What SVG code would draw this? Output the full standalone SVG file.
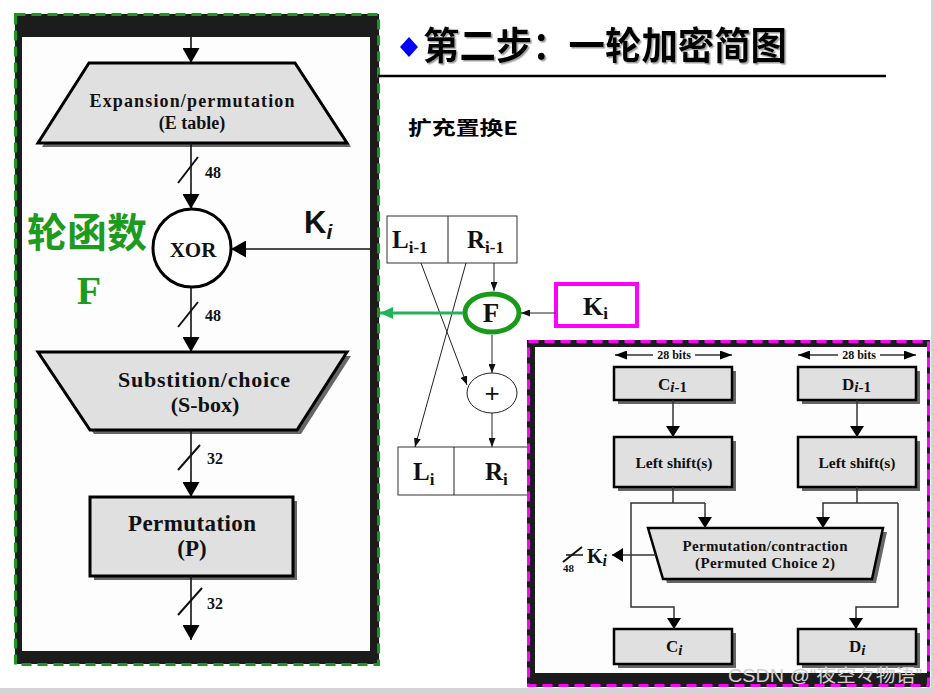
<svg xmlns="http://www.w3.org/2000/svg" width="934" height="694" viewBox="0 0 934 694">
<style>
.sb{font-family:"Liberation Serif","DejaVu Serif",serif;font-weight:bold;fill:#111}
.cjk{font-family:"Noto Sans CJK SC",sans-serif}
.box{fill:#e0e0e0;stroke:#000;stroke-width:3}
.box2{fill:#e0e0e0;stroke:#000;stroke-width:2.5}
.shd{fill:#666}
.ln{fill:none;stroke:#111;stroke-width:1.6}
.thin{fill:none;stroke:#222;stroke-width:1}
.cell{fill:#fff;stroke:#333;stroke-width:1}
.rl{fill:none;stroke:#333;stroke-width:1.5}
.sl{stroke:#111;stroke-width:2}
</style>
<defs>
<marker id="ah" markerUnits="userSpaceOnUse" markerWidth="15" markerHeight="17" refX="15" refY="8.5" orient="auto"><path d="M0,0 L15,8.5 L0,17 z" fill="#000"/></marker>
<marker id="am" markerUnits="userSpaceOnUse" markerWidth="11" markerHeight="14" refX="11" refY="7" orient="auto"><path d="M0,0 L11,7 L0,14 z" fill="#000"/></marker>
<marker id="ad" markerUnits="userSpaceOnUse" markerWidth="12" markerHeight="9" refX="12" refY="4.5" orient="auto"><path d="M0,0 L12,4.5 L0,9 z" fill="#000"/></marker>
<marker id="as" markerUnits="userSpaceOnUse" markerWidth="9" markerHeight="7" refX="9" refY="3.5" orient="auto"><path d="M0,0 L9,3.5 L0,7 z" fill="#111"/></marker>
<marker id="ag" markerUnits="userSpaceOnUse" markerWidth="13" markerHeight="12" refX="13" refY="6" orient="auto"><path d="M0,0 L13,6 L0,12 z" fill="#22b25a"/></marker>
<filter id="ts" x="-5%" y="-20%" width="110%" height="140%"><feDropShadow dx="1.5" dy="1.5" stdDeviation="0.6" flood-color="#888" flood-opacity="0.8"/></filter>
</defs>
<rect width="934" height="694" fill="#fff"/>
<rect x="931" y="0" width="3" height="694" fill="#d4d4d4"/>
<rect x="0" y="688" width="934" height="6" fill="#d4d4d4"/>

<g id="left-panel">
<rect x="15" y="14" width="364" height="650" fill="#1c1c1c"/>
<rect x="22" y="37" width="348" height="614" fill="#fdfdfd"/>
<rect x="15.5" y="14.5" width="363" height="650" fill="none" stroke="#1a9a1a" stroke-width="3" stroke-dasharray="10 6"/>
</g>

<g id="title">
<polygon points="409,37 418,47 409,57 400,47" fill="#0000ff"/>
<text x="423" y="59" class="cjk" font-size="38" font-weight="bold" fill="#000" textLength="364" lengthAdjust="spacingAndGlyphs" filter="url(#ts)">第二步：一轮加密简图</text>
<line x1="378" y1="76" x2="886" y2="76" stroke="#000" stroke-width="2.5"/>
<text x="408" y="135" class="cjk" font-size="19" font-weight="bold" fill="#000" textLength="110" lengthAdjust="spacingAndGlyphs">扩充置换E</text>
</g>

<g id="e-table">
<polygon class="shd" points="93,67 299,67 351,147 42,147"/>
<polygon class="box" points="89,63 295,63 347,143 38,143"/>
<text x="192" y="107" class="sb" font-size="18" text-anchor="middle" textLength="205" lengthAdjust="spacing">Expansion/permutation</text>
<text x="192" y="129" class="sb" font-size="18" text-anchor="middle">(E table)</text>
</g>
<g id="xor">
<circle cx="192" cy="248" r="39" fill="#fff" stroke="#000" stroke-width="3"/>
<text x="193" y="257" class="sb" font-size="21" text-anchor="middle">XOR</text>
</g>
<g id="s-box">
<polygon class="shd" points="42,356 351,356 301,434 94,434"/>
<polygon class="box" points="38,352 347,352 297,430 90,430"/>
<text x="204" y="387" class="sb" font-size="22" text-anchor="middle" textLength="172" lengthAdjust="spacing">Substition/choice</text>
<text x="205" y="412" class="sb" font-size="22" text-anchor="middle">(S-box)</text>
</g>
<g id="p-box">
<rect class="shd" x="94" y="501" width="203" height="79"/>
<rect class="box" x="90" y="497" width="203" height="79"/>
<text x="192" y="531" class="sb" font-size="23" text-anchor="middle" textLength="128" lengthAdjust="spacing">Permutation</text>
<text x="192" y="556" class="sb" font-size="23" text-anchor="middle">(P)</text>
</g>
<g id="labels-left">
<text x="27" y="247" class="cjk" font-size="40" font-weight="bold" fill="#1e9a1e">轮函数</text>
<text x="89" y="304" font-family="Liberation Serif,serif" font-weight="bold" font-size="40" fill="#1e9a1e" text-anchor="middle">F</text>
<text x="304" y="233" font-family="Liberation Sans,Arial,sans-serif" font-weight="bold" font-size="31" fill="#111">K<tspan font-size="21" font-style="italic" dy="6">i</tspan></text>
<text x="205" y="178" class="sb" font-size="16">48</text>
<text x="205" y="321" class="sb" font-size="16">48</text>
<text x="207" y="464" class="sb" font-size="16">32</text>
<text x="207" y="609" class="sb" font-size="16">32</text>
</g>

<g id="top-halves">
<rect class="cell" x="387" y="216" width="130" height="47"/>
<line class="thin" x1="448" y1="216" x2="448" y2="263"/>
<text x="392" y="248" class="sb" font-size="25">L<tspan font-size="17" dy="5">i-1</tspan></text>
<text x="467" y="248" class="sb" font-size="25">R<tspan font-size="17" dy="5">i-1</tspan></text>
</g>
<g id="f-node">
<ellipse cx="492" cy="313" rx="27" ry="19" fill="#fff" stroke="#1a9a1a" stroke-width="5"/>
<text x="491" y="322" class="sb" font-size="27" text-anchor="middle">F</text>
</g>
<g id="ki-box">
<rect x="556" y="284" width="81" height="42" fill="#fff" stroke="#ff00ff" stroke-width="4"/>
<text x="583" y="315" class="sb" font-size="26">K<tspan font-size="17" dy="4">i</tspan></text>
</g>
<g id="plus">
<ellipse cx="492" cy="393" rx="25" ry="20" fill="#fff" stroke="#222" stroke-width="1"/>
<text x="492" y="402" font-family="Liberation Sans,sans-serif" font-size="26" text-anchor="middle" fill="#111">+</text>
</g>
<g id="bottom-halves">
<rect class="cell" x="398" y="447" width="140" height="48"/>
<line class="thin" x1="454" y1="447" x2="454" y2="495"/>
<text x="413" y="480" class="sb" font-size="25">L<tspan font-size="17" dy="5">i</tspan></text>
<text x="485" y="480" class="sb" font-size="25">R<tspan font-size="17" dy="5">i</tspan></text>
</g>

<g id="right-panel">
<rect x="527" y="340" width="403" height="347" fill="#1c1c1c"/>
<rect x="535" y="347" width="392" height="326" fill="#fdfdfd"/>
<rect x="528.5" y="341.5" width="400" height="344" fill="none" stroke="#ff00ff" stroke-width="3" stroke-dasharray="10 6"/>
</g>
<g id="c-prev">
<rect class="shd" x="618" y="371" width="118" height="33"/>
<rect class="box2" x="614" y="367" width="118" height="33"/>
<text x="658" y="390" class="sb" font-size="17">C<tspan font-size="15" dy="2"><tspan font-style="italic">i</tspan>-1</tspan></text>
</g>
<g id="d-prev">
<rect class="shd" x="802" y="371" width="118" height="33"/>
<rect class="box2" x="798" y="367" width="118" height="33"/>
<text x="842" y="390" class="sb" font-size="17">D<tspan font-size="15" dy="2"><tspan font-style="italic">i</tspan>-1</tspan></text>
</g>
<g id="c-shift">
<rect class="shd" x="618" y="441" width="118" height="50"/>
<rect class="box2" x="614" y="437" width="118" height="50"/>
<text x="674" y="468" class="sb" font-size="15.5" text-anchor="middle">Left shift(s)</text>
</g>
<g id="d-shift">
<rect class="shd" x="802" y="441" width="118" height="50"/>
<rect class="box2" x="798" y="437" width="118" height="50"/>
<text x="857" y="468" class="sb" font-size="15.5" text-anchor="middle">Left shift(s)</text>
</g>
<g id="pc2">
<polygon class="shd" points="652,532 887,532 876,583 667,583"/>
<polygon class="box2" points="648,528 883,528 872,579 663,579"/>
<text x="765" y="551" class="sb" font-size="15" text-anchor="middle" textLength="165" lengthAdjust="spacing">Permutation/contraction</text>
<text x="765" y="568" class="sb" font-size="15" text-anchor="middle" textLength="140" lengthAdjust="spacing">(Permuted Choice 2)</text>
</g>
<g id="c-new">
<rect class="shd" x="618" y="633" width="118" height="35"/>
<rect class="box2" x="614" y="629" width="118" height="35"/>
<text x="666" y="652" class="sb" font-size="17">C<tspan font-size="15" font-style="italic" dy="3">i</tspan></text>
</g>
<g id="d-new">
<rect class="shd" x="802" y="633" width="118" height="35"/>
<rect class="box2" x="798" y="629" width="118" height="35"/>
<text x="849" y="652" class="sb" font-size="17">D<tspan font-size="15" font-style="italic" dy="3">i</tspan></text>
</g>
<g id="right-labels">
<text x="674" y="359" class="sb" font-size="12" text-anchor="middle">28 bits</text>
<text x="859" y="359" class="sb" font-size="12" text-anchor="middle">28 bits</text>
<text x="587" y="563" class="sb" font-size="20">K<tspan font-size="16" font-style="italic" dy="3">i</tspan></text>
<text x="563" y="572" class="sb" font-size="11">48</text>
</g>

<g id="connectors">
<line class="ln" x1="191" y1="37" x2="191" y2="63" marker-end="url(#ah)"/>
<line class="ln" x1="191" y1="143" x2="191" y2="209" marker-end="url(#ah)"/>
<line class="ln" x1="191" y1="287" x2="191" y2="352" marker-end="url(#ah)"/>
<line class="ln" x1="191" y1="430" x2="191" y2="497" marker-end="url(#ah)"/>
<line class="ln" x1="191" y1="576" x2="191" y2="640" marker-end="url(#ah)"/>
<line class="ln" x1="370" y1="249" x2="231" y2="249" marker-end="url(#ah)"/>
<line class="sl" x1="178" y1="183" x2="198" y2="157"/>
<line class="sl" x1="178" y1="327" x2="198" y2="302"/>
<line class="sl" x1="178" y1="470" x2="200" y2="445"/>
<line class="sl" x1="178" y1="615" x2="202" y2="588"/>

<line class="thin" x1="421" y1="263" x2="467" y2="385" marker-end="url(#as)"/>
<line class="thin" x1="466" y1="263" x2="415" y2="447" marker-end="url(#as)"/>
<line class="thin" x1="494" y1="263" x2="494" y2="291" marker-end="url(#as)"/>
<line class="thin" x1="556" y1="313" x2="521" y2="313" marker-end="url(#as)"/>
<line class="thin" x1="492" y1="335" x2="492" y2="373" marker-end="url(#as)"/>
<line class="thin" x1="492" y1="413" x2="492" y2="447" marker-end="url(#as)"/>
<line fill="none" stroke="#22b25a" stroke-width="3" x1="463" y1="313" x2="380" y2="313" marker-end="url(#ag)"/>

<line class="rl" x1="653" y1="355" x2="615" y2="355" marker-end="url(#ad)"/>
<line class="rl" x1="695" y1="355" x2="732" y2="355" marker-end="url(#ad)"/>
<line class="rl" x1="838" y1="355" x2="798" y2="355" marker-end="url(#ad)"/>
<line class="rl" x1="880" y1="355" x2="916" y2="355" marker-end="url(#ad)"/>
<line class="rl" x1="673" y1="400" x2="673" y2="437" marker-end="url(#am)"/>
<line class="rl" x1="857" y1="400" x2="857" y2="437" marker-end="url(#am)"/>
<line class="rl" x1="673" y1="487" x2="673" y2="503"/>
<path class="rl" d="M705,503 L631,503 L631,607 L674,607 L674,629" marker-end="url(#am)"/>
<line class="rl" x1="705" y1="503" x2="705" y2="528" marker-end="url(#am)"/>
<line class="rl" x1="857" y1="487" x2="857" y2="503"/>
<path class="rl" d="M898,503 L898,607 L856,607 L856,629" marker-end="url(#am)"/>
<path class="rl" d="M898,503 L823,503 L823,528" marker-end="url(#am)"/>
<line class="rl" x1="656" y1="555" x2="612" y2="555" marker-end="url(#am)"/>
<line class="sl" x1="563" y1="562" x2="582" y2="547"/>
<line stroke="#111" stroke-width="1.5" x1="566" y1="555" x2="583" y2="555"/>
</g>

<text x="728" y="682" font-family="Liberation Sans,'Noto Sans CJK SC',sans-serif" font-size="18" fill="#d0d0d0" textLength="194" lengthAdjust="spacingAndGlyphs">CSDN @“夜空々物语”</text>
</svg>
